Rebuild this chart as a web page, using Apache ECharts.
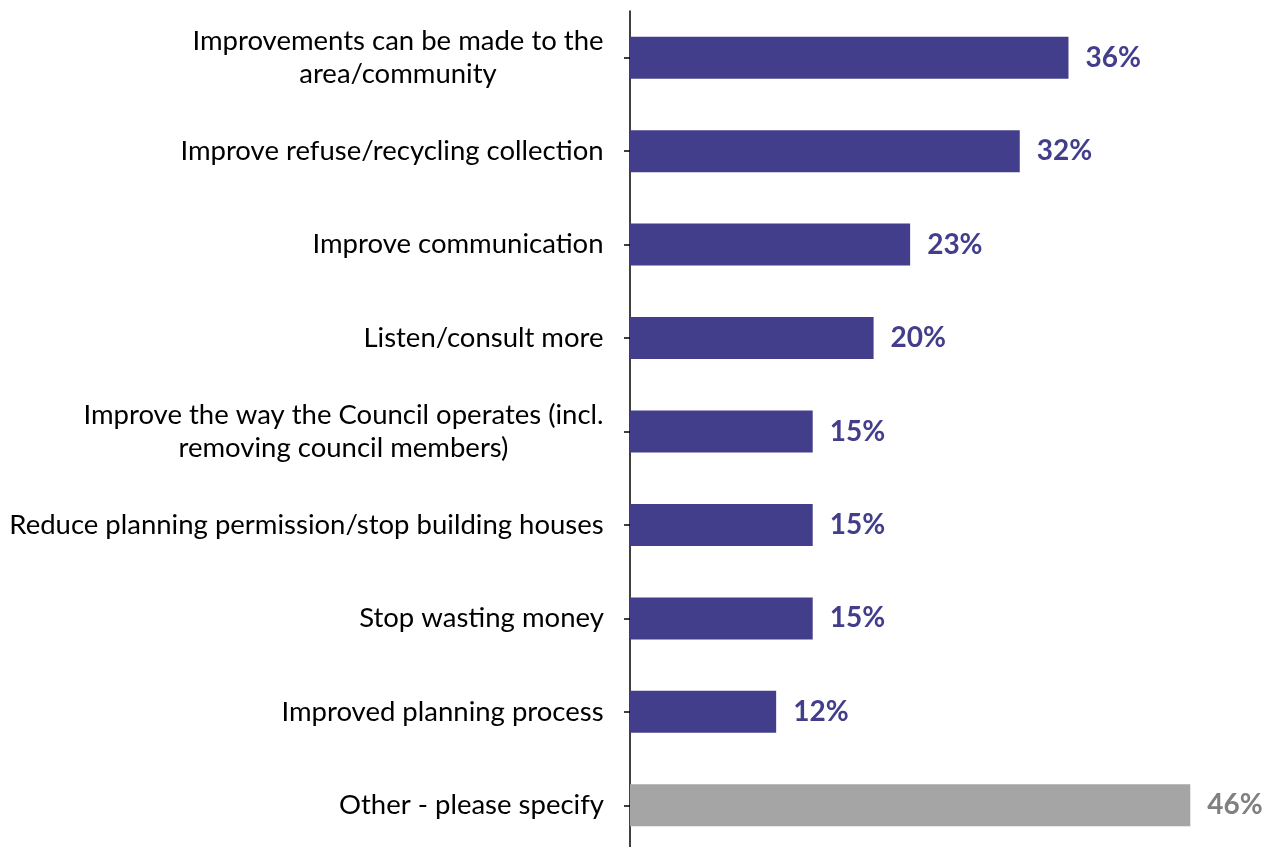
<!DOCTYPE html>
<html>
<head>
<meta charset="utf-8">
<script src="https://cdn.jsdelivr.net/npm/echarts@6/dist/echarts.min.js"></script>
<style>
  html, body { margin: 0; padding: 0; background: #fff; }
  #chart { width: 1272px; height: 847px; }
</style>
</head>
<body>
<div id="chart"></div>
<script>
// Survey responses, top to bottom
const categories = [
  'Improvements can be made to the\narea/community',
  'Improve refuse/recycling collection',
  'Improve communication',
  'Listen/consult more',
  'Improve the way the Council operates (incl.\nremoving council members)',
  'Reduce planning permission/stop building houses',
  'Stop wasting money',
  'Improved planning process',
  'Other - please specify'
];
const values = [36, 32, 23, 20, 15, 15, 15, 12, 46];
const highlight = [false, false, false, false, false, false, false, false, true];

const FONT = 'Lato, "Open Sans", sans-serif';
const LABEL_SIZE = 27.5;
const VALUE_SIZE = 28;
const MAIN = '#433E8B';
const OTHER_BAR = '#A5A5A5';
const OTHER_TEXT = '#808080';

// measure a line so multi-line labels can be centred within their own block
const ctx = document.createElement('canvas').getContext('2d');
ctx.font = LABEL_SIZE + 'px ' + FONT;
const widthOf = s => Math.ceil(ctx.measureText(s).width);

// rich styles per category so wrapped labels centre their lines
const rich = {};
categories.forEach((c, i) => {
  const lines = c.split('\n');
  const w = Math.max(...lines.map(widthOf));
  rich['c' + i] = { width: w, align: 'center', fontSize: LABEL_SIZE, fontFamily: FONT, color: '#000', lineHeight: 33 };
});

const chart = echarts.init(document.getElementById('chart'), null, { renderer: 'canvas' });
chart.setOption({
  animation: false,
  grid: { left: 630, right: 33, top: 11, height: 841, containLabel: false, outerBoundsMode: 'none' },
  xAxis: { type: 'value', min: 0, max: 50, show: false },
  yAxis: {
    type: 'category',
    inverse: true,
    data: categories,
    axisLine: { show: true, lineStyle: { color: '#000', width: 1.5 } },
    axisTick: { show: true, alignWithLabel: true, length: 6, lineStyle: { color: '#000', width: 1.5 } },
    axisLabel: {
      margin: 26,
      align: 'right',
      formatter: (v, i) => v.split('\n').map(l => '{c' + i + '|' + l + '}').join('\n'),
      rich: rich
    },
    splitLine: { show: false }
  },
  series: [{
    type: 'bar',
    barWidth: 42,
    data: values.map((v, i) => ({
      value: v,
      itemStyle: { color: highlight[i] ? OTHER_BAR : MAIN },
      label: { color: highlight[i] ? OTHER_TEXT : MAIN }
    })),
    label: {
      show: true,
      position: 'right',
      distance: 17,
      formatter: p => p.value + '%',
      fontFamily: FONT,
      fontWeight: 'bold',
      fontSize: VALUE_SIZE
    }
  }]
});
</script>
</body>
</html>
